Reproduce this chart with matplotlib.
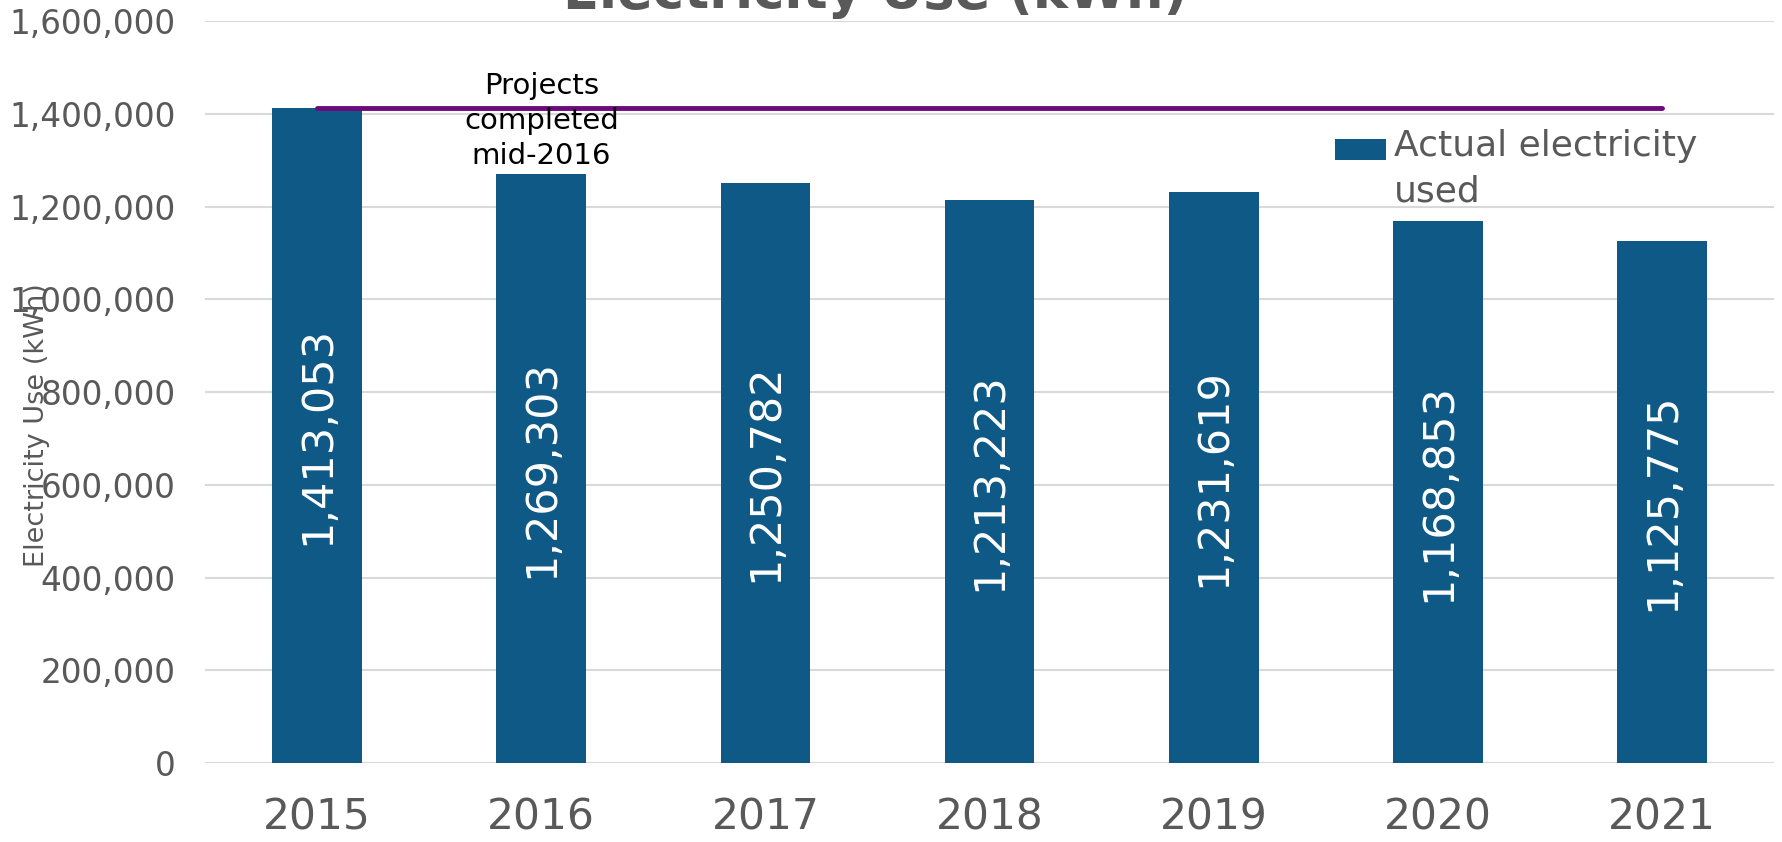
import matplotlib
matplotlib.use("Agg")
import matplotlib.pyplot as plt
from matplotlib.legend_handler import HandlerPatch
from matplotlib.patches import Rectangle
from matplotlib.ticker import FuncFormatter, MultipleLocator

# Annual electricity use (kWh)
years = ["2015", "2016", "2017", "2018", "2019", "2020", "2021"]
electricity_kwh = [1413053, 1269303, 1250782, 1213223, 1231619, 1168853, 1125775]
baseline_kwh = 1413053  # 2015 baseline level
series_label = "Actual electricity\nused"
note_text = "Projects\ncompleted\nmid-2016"
title_text = "Electricity Use (kWh)"
ylabel_text = "Electricity Use (kWh)"

BAR_COLOR = "#0E5985"
LINE_COLOR = "#6C0A7C"
GRAY = "#595959"
GRID = "#D9D9D9"

plt.rcParams["font.family"] = ["DejaVu Sans"]

fig = plt.figure(figsize=(17.83, 8.42), dpi=100)
ax = fig.add_axes([0.115, 0.0938, 0.88, 0.8812])

x = list(range(len(years)))
bars = ax.bar(x, electricity_kwh, width=0.4, color=BAR_COLOR, zorder=2,
              label=series_label)

# baseline line across all years
ax.plot([x[0], x[-1]], [baseline_kwh, baseline_kwh], color=LINE_COLOR,
        lw=3.5, solid_capstyle="round", zorder=3)

# value labels inside the bars
for xi, v in zip(x, electricity_kwh):
    ax.text(xi, v / 2, f"{v:,}", rotation=90, ha="center", va="center",
            color="white", fontsize=31, zorder=4)

# note above the 2016 bar
ax.annotate(note_text, xy=(x[1], electricity_kwh[1]), xytext=(0, 3),
            textcoords="offset points", ha="center", va="bottom",
            fontsize=21, color="black", linespacing=1.33, zorder=4)

ax.set_xlim(-0.5, len(years) - 0.5)
ax.set_ylim(0, 1600000)
ax.yaxis.set_major_locator(MultipleLocator(200000))
ax.yaxis.set_major_formatter(FuncFormatter(lambda v, p: f"{int(v):,}"))
ax.set_xticks(x)
ax.set_xticklabels(years)

ax.grid(axis="y", color=GRID, lw=1.5, zorder=0)
ax.set_axisbelow(True)
for s in ax.spines.values():
    s.set_visible(False)
ax.tick_params(axis="y", length=0, pad=21, labelsize=23.5, labelcolor=GRAY)
ax.tick_params(axis="x", length=0, pad=24, labelsize=30.5, labelcolor=GRAY)

ax.set_ylabel(ylabel_text, fontsize=19.5, color=GRAY)
ax.yaxis.set_label_coords(-0.099, 0.455)


class TopAlignedPatch(HandlerPatch):
    def create_artists(self, legend, orig_handle, xdescent, ydescent,
                       width, height, fontsize, trans):
        r = Rectangle((-xdescent, -ydescent + 0.62 * fontsize), width,
                      0.58 * fontsize, facecolor=orig_handle.get_facecolor(),
                      transform=trans)
        return [r]


leg = ax.legend(handles=[bars.patches[0]], labels=[series_label],
                handler_map={Rectangle: TopAlignedPatch()},
                loc="upper left", bbox_to_anchor=(0.72, 0.855),
                frameon=False, fontsize=26, handlelength=1.43,
                handletextpad=0.2, borderpad=0, borderaxespad=0)
for t in leg.get_texts():
    t.set_color(GRAY)
    t.set_linespacing(1.45)

fig.text(0.491, 1 - 8 / 842, title_text, ha="center", va="baseline",
         fontsize=38, fontweight="bold", color=GRAY)

fig.savefig("out.png", dpi=100)
